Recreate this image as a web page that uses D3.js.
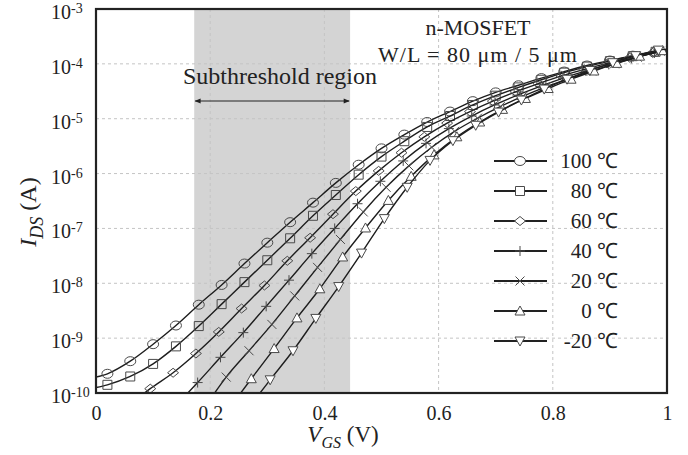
<!DOCTYPE html>
<html><head><meta charset="utf-8">
<script src="https://cdn.jsdelivr.net/npm/d3@7"></script>
<style>
body{margin:0;background:#fff;}
text{font-family:"Liberation Serif","Times New Roman",serif;fill:#222;}
</style></head>
<body><svg id="c" width="688" height="455"></svg>
<script>
// ---- data ----
const seriesLabels = ["100 \u2103", "80 \u2103", "60 \u2103", "40 \u2103", "20 \u2103", "0 \u2103", "-20 \u2103"];
const markerTypes = ["circle", "square", "diamond", "plus", "cross", "triUp", "triDown"];
const xTicks = [0, 0.2, 0.4, 0.6, 0.8, 1];
const xTickLabels = ["0", "0.2", "0.4", "0.6", "0.8", "1"];
const yTicks = [1e-10, 1e-9, 1e-8, 1e-7, 1e-6, 1e-5, 1e-4, 1e-3];
const yTickExp = ["-10", "-9", "-8", "-7", "-6", "-5", "-4", "-3"];
const subthresholdRange = [0.172, 0.445];

const vA = [0, 0.02, 0.06, 0.10, 0.14, 0.18, 0.22, 0.26, 0.30, 0.34, 0.38, 0.42, 0.46, 0.50, 0.54, 0.58, 0.62, 0.66, 0.70, 0.74, 0.78, 0.82, 0.86, 0.90, 0.94, 0.98, 1.0];
const i100 = [1.95e-10, 2.24e-10, 3.80e-10, 7.76e-10, 1.70e-9, 4.07e-9, 9.33e-9, 2.29e-8, 5.50e-8, 1.30e-7, 2.95e-7, 6.76e-7, 1.45e-6, 2.88e-6, 5.13e-6, 8.71e-6, 1.35e-5, 2.09e-5, 3.02e-5, 4.07e-5, 5.50e-5, 7.24e-5, 9.33e-5, 1.15e-4, 1.41e-4, 1.66e-4, 1.78e-4];
const i80 = [1.26e-10, 1.41e-10, 2.00e-10, 3.39e-10, 7.08e-10, 1.66e-9, 4.17e-9, 1.05e-8, 2.63e-8, 6.61e-8, 1.70e-7, 4.07e-7, 9.55e-7, 2.04e-6, 3.89e-6, 7.08e-6, 1.12e-5, 1.78e-5, 2.63e-5, 3.72e-5, 5.13e-5, 6.92e-5, 8.91e-5, 1.12e-4, 1.38e-4, 1.66e-4, 1.78e-4];
const v60 = [0.055, 0.095, 0.135, 0.175, 0.215, 0.255, 0.295, 0.335, 0.375, 0.415, 0.455, 0.495, 0.535, 0.575, 0.615, 0.655, 0.695, 0.735, 0.775, 0.815, 0.855, 0.895, 0.935, 0.975, 1.0];
const i60 = [5.62e-11, 1.20e-10, 2.34e-10, 5.25e-10, 1.30e-9, 3.47e-9, 9.12e-9, 2.57e-8, 6.76e-8, 1.82e-7, 4.79e-7, 1.12e-6, 2.40e-6, 4.68e-6, 8.32e-6, 1.35e-5, 2.09e-5, 3.09e-5, 4.37e-5, 6.03e-5, 7.94e-5, 1.02e-4, 1.29e-4, 1.58e-4, 1.78e-4];
const v40 = [0.138, 0.178, 0.218, 0.258, 0.298, 0.338, 0.378, 0.418, 0.458, 0.498, 0.538, 0.578, 0.618, 0.658, 0.698, 0.738, 0.778, 0.818, 0.858, 0.898, 0.938, 0.978, 1.0];
const i40 = [5.62e-11, 1.55e-10, 4.47e-10, 1.26e-9, 3.80e-9, 1.14e-8, 3.47e-8, 1.00e-7, 2.82e-7, 7.24e-7, 1.70e-6, 3.55e-6, 6.61e-6, 1.12e-5, 1.78e-5, 2.69e-5, 3.89e-5, 5.50e-5, 7.41e-5, 9.77e-5, 1.26e-4, 1.58e-4, 1.78e-4];
const v20 = [0.188, 0.228, 0.268, 0.308, 0.348, 0.388, 0.428, 0.468, 0.508, 0.548, 0.588, 0.628, 0.668, 0.708, 0.748, 0.788, 0.828, 0.868, 0.908, 0.948, 0.988, 1.0];
const i20 = [5.01e-11, 1.95e-10, 5.89e-10, 1.78e-9, 5.89e-9, 1.95e-8, 6.31e-8, 2.00e-7, 5.62e-7, 1.38e-6, 3.02e-6, 5.89e-6, 1.02e-5, 1.66e-5, 2.57e-5, 3.80e-5, 5.37e-5, 7.41e-5, 1.00e-4, 1.32e-4, 1.70e-4, 1.78e-4];
const v0 = [0.232, 0.272, 0.312, 0.352, 0.392, 0.432, 0.472, 0.512, 0.552, 0.592, 0.632, 0.672, 0.712, 0.752, 0.792, 0.832, 0.872, 0.912, 0.952, 0.992, 1.0];
const i0 = [5.01e-11, 1.82e-10, 6.46e-10, 2.34e-9, 7.94e-9, 3.02e-8, 1.02e-7, 3.24e-7, 8.91e-7, 2.19e-6, 4.68e-6, 8.71e-6, 1.48e-5, 2.34e-5, 3.55e-5, 5.25e-5, 7.41e-5, 1.02e-4, 1.38e-4, 1.74e-4, 1.82e-4];
const vm20 = [0.265, 0.305, 0.345, 0.385, 0.425, 0.465, 0.505, 0.545, 0.585, 0.625, 0.665, 0.705, 0.745, 0.785, 0.825, 0.865, 0.905, 0.945, 0.985, 1.0];
const im20 = [5.01e-11, 1.74e-10, 5.89e-10, 2.29e-9, 8.71e-9, 3.55e-8, 1.51e-7, 5.62e-7, 1.74e-6, 3.98e-6, 7.59e-6, 1.32e-5, 2.19e-5, 3.47e-5, 5.25e-5, 7.59e-5, 1.05e-4, 1.41e-4, 1.78e-4, 1.86e-4];

const seriesV = [vA, vA, v60, v40, v20, v0, vm20];
const seriesI = [i100, i80, i60, i40, i20, i0, im20];

// ---- layout ----
const svg = d3.select("#c");
const L = 96, R = 667, T = 9, B = 393;
const x = d3.scaleLinear().domain([0, 1]).range([L, R]);
const y = d3.scaleLog().domain([1e-10, 1e-3]).range([B, T]);

svg.append("defs").append("clipPath").attr("id", "clip")
  .append("rect").attr("x", L).attr("y", T).attr("width", R - L).attr("height", B - T);

// shaded subthreshold region
svg.append("rect").attr("x", x(subthresholdRange[0])).attr("y", T)
  .attr("width", x(subthresholdRange[1]) - x(subthresholdRange[0])).attr("height", B - T)
  .attr("fill", "#d4d4d4");

// gridlines
const grid = svg.append("g").attr("stroke", "#c4c4c4").attr("stroke-dasharray", "3,3").attr("stroke-width", 1);
yTicks.slice(1, -1).forEach(t => grid.append("line").attr("x1", L).attr("x2", R).attr("y1", y(t)).attr("y2", y(t)));
xTicks.slice(1, -1).forEach(t => grid.append("line").attr("y1", T).attr("y2", B).attr("x1", x(t)).attr("x2", x(t)));

// axes via d3 (tick marks hidden, labels custom)
const xAxis = svg.append("g").attr("transform", `translate(0,${B})`)
  .call(d3.axisBottom(x).tickValues(xTicks).tickSize(0).tickFormat((d, i) => xTickLabels[i]));
xAxis.select(".domain").remove();
xAxis.selectAll("text").attr("dy", null).attr("y", 27).style("font-size", "20px")
  .style("font-family", "'Liberation Serif','Times New Roman',serif").attr("fill", "#222");

const yAxis = svg.append("g");
yTicks.forEach((t, i) => {
  const tx = yAxis.append("text").attr("x", 51).attr("y", y(t) + 10).style("font-size", "20px");
  tx.append("tspan").text("10");
  tx.append("tspan").attr("dy", -6).style("font-size", "14px").text(yTickExp[i]);
});

// curves
const plot = svg.append("g").attr("clip-path", "url(#clip)");
const line = d3.line().x(d => x(d.v)).y(d => y(d.i)).curve(d3.curveMonotoneX);

function markerPath(type) {
  switch (type) {
    case "circle": return "M-5.5,0A5.5,4.5 0 1,0 5.5,0A5.5,4.5 0 1,0 -5.5,0Z";
    case "square": return "M-4.5,-4.5H4.5V4.5H-4.5Z";
    case "diamond": return "M0,-4.5L5.5,0L0,4.5L-5.5,0Z";
    case "plus": return "M-5,0H5M0,-5V5";
    case "cross": return "M-4.5,-4.5L4.5,4.5M-4.5,4.5L4.5,-4.5";
    case "triUp": return "M0,-5L5,4H-5Z";
    case "triDown": return "M0,5L5,-4H-5Z";
  }
}
function markerFill(type) { return (type === "triUp" || type === "triDown") ? "#fff" : "none"; }

seriesV.forEach((vs, s) => {
  const data = vs.map((v, k) => ({ v: v, i: seriesI[s][k] }));
  plot.append("path").datum(data).attr("d", line)
    .attr("fill", "none").attr("stroke", "#1e1e1e").attr("stroke-width", 1.4);
  plot.append("g").selectAll("path").data(data.filter(d => d.v > 0 && d.v < 1)).join("path")
    .attr("transform", d => `translate(${x(d.v)},${y(d.i)})`)
    .attr("d", markerPath(markerTypes[s]))
    .attr("fill", markerFill(markerTypes[s]))
    .attr("stroke", "#4a4a4a").attr("stroke-width", 1);
});

// frame
svg.append("rect").attr("x", L).attr("y", T).attr("width", R - L).attr("height", B - T)
  .attr("fill", "none").attr("stroke", "#222").attr("stroke-width", 2.2);

// axis titles
const xt = svg.append("text").attr("x", 343).attr("y", 442).attr("text-anchor", "middle").style("font-size", "23px");
xt.append("tspan").style("font-style", "italic").text("V");
xt.append("tspan").style("font-style", "italic").style("font-size", "16px").attr("dy", 6).text("GS");
xt.append("tspan").attr("dy", -6).text(" (V)");

const yt = svg.append("text").attr("transform", "translate(36,212) rotate(-90)").attr("text-anchor", "middle").style("font-size", "24px");
yt.append("tspan").style("font-style", "italic").text("I");
yt.append("tspan").style("font-style", "italic").style("font-size", "18px").attr("dy", 7).text("DS");
yt.append("tspan").attr("dy", -7).text(" (A)");

// annotations
svg.append("text").attr("x", 478).attr("y", 35).attr("text-anchor", "middle").style("font-size", "22px").text("n-MOSFET");
svg.append("text").attr("x", 478).attr("y", 62).attr("text-anchor", "middle").style("font-size", "22px")
  .style("letter-spacing", "1px").text("W/L = 80 \u03bcm / 5 \u03bcm");
svg.append("text").attr("x", 183).attr("y", 84).style("font-size", "24px").text("Subthreshold region");

const defs = svg.select("defs");
defs.append("marker").attr("id", "ah").attr("viewBox", "0 0 10 10").attr("refX", 9).attr("refY", 5)
  .attr("markerWidth", 8).attr("markerHeight", 6).attr("orient", "auto-start-reverse").attr("markerUnits", "userSpaceOnUse")
  .append("path").attr("d", "M0,1L10,5L0,9Z").attr("fill", "#222");
svg.append("line").attr("x1", x(subthresholdRange[0]) + 1).attr("x2", x(subthresholdRange[1]) - 1).attr("y1", 101).attr("y2", 101)
  .attr("stroke", "#222").attr("stroke-width", 1.2).attr("marker-start", "url(#ah)").attr("marker-end", "url(#ah)");

// legend
const lg = svg.append("g");
seriesLabels.forEach((lab, s) => {
  const ry = 161 + s * 30;
  lg.append("line").attr("x1", 494).attr("x2", 547).attr("y1", ry).attr("y2", ry).attr("stroke", "#222").attr("stroke-width", 2);
  lg.append("path").attr("transform", `translate(520,${ry})`).attr("d", markerPath(markerTypes[s]))
    .attr("fill", markerTypes[s] === "plus" || markerTypes[s] === "cross" ? "none" : "#fff")
    .attr("stroke", "#4a4a4a").attr("stroke-width", 1);
  lg.append("text").attr("x", 618).attr("y", ry + 7).attr("text-anchor", "end").style("font-size", "21px").text(lab);
});
</script></body></html>
